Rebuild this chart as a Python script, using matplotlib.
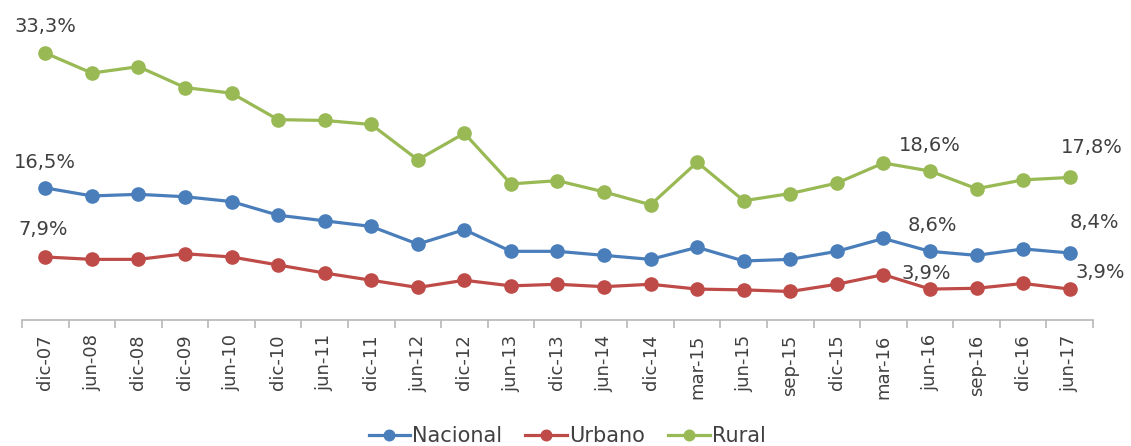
import matplotlib
matplotlib.use("Agg")
import matplotlib.pyplot as plt
import numpy as np

# periodos (eje x)
periodos = ['dic-07', 'jun-08', 'dic-08', 'dic-09', 'jun-10', 'dic-10', 'jun-11',
            'dic-11', 'jun-12', 'dic-12', 'jun-13', 'dic-13', 'jun-14', 'dic-14',
            'mar-15', 'jun-15', 'sep-15', 'dic-15', 'mar-16', 'jun-16', 'sep-16',
            'dic-16', 'jun-17']

# valores (%)
nacional = [16.5, 15.5, 15.7, 15.4, 14.8, 13.1, 12.4, 11.7, 9.5, 11.3, 8.6, 8.6,
            8.1, 7.6, 9.1, 7.4, 7.6, 8.6, 10.2, 8.6, 8.1, 8.9, 8.4]
urbano = [7.9, 7.6, 7.6, 8.3, 7.9, 6.9, 5.9, 5.0, 4.1, 5.0, 4.3, 4.5,
          4.2, 4.5, 3.9, 3.8, 3.6, 4.5, 5.7, 3.9, 4.0, 4.6, 3.9]
rural = [33.3, 30.8, 31.6, 29.0, 28.3, 25.0, 24.9, 24.4, 20.0, 23.3, 17.0, 17.4,
         16.0, 14.4, 19.7, 14.9, 15.8, 17.1, 19.6, 18.6, 16.4, 17.5, 17.8]

# etiquetas: indices de los puntos con valor
idx_etiquetas = [0, 19, 22]

colores = {'Nacional': '#4a7ebb', 'Urbano': '#be4b48', 'Rural': '#98b954'}
texto = '#404040'

fig = plt.figure(figsize=(11.31, 4.46), dpi=100)
W, H = 1131, 446
ax = fig.add_axes([22 / W, 1 - 320.4 / H, 1071 / W, 320.4 / H])

x = np.arange(len(periodos))
series = [('Nacional', nacional), ('Urbano', urbano), ('Rural', rural)]
for nombre, vals in series:
    ax.plot(x, vals, color=colores[nombre], lw=2.3, marker='o', ms=9.5,
            markeredgecolor=colores[nombre], label=nombre)

# desplazamientos de las etiquetas en pixeles (x, y)
desp = {
    'Nacional': [(0, 25), (2, 26), (25, 30)],
    'Urbano': [(-2, 27), (-4, 16), (31, 17)],
    'Rural': [(0, 26), (0, 26), (22, 30)],
}
for nombre, vals in series:
    for k, i in enumerate(idx_etiquetas):
        txt = f"{vals[i]:.1f}%".replace('.', ',')
        ax.annotate(txt, (x[i], vals[i]), xytext=desp[nombre][k],
                    textcoords='offset pixels', ha='center', va='center',
                    fontsize=14, color=texto, annotation_clip=False)

ax.set_xlim(-0.5, len(periodos) - 0.5)
ax.set_ylim(0, 39.9)
ax.set_yticks([])
for s in ['top', 'right', 'left']:
    ax.spines[s].set_visible(False)
ax.spines['bottom'].set_color('#b8b8b8')
ax.spines['bottom'].set_linewidth(1.2)

ax.set_xticks(x)
ax.set_xticklabels(periodos, rotation=90, fontsize=13, color=texto)
ax.set_xticks(np.arange(-0.5, len(periodos)), minor=True)
ax.tick_params(axis='x', which='major', length=0, pad=10)
ax.tick_params(axis='x', which='minor', length=6, color='#b8b8b8', width=1.2)

fig.legend(loc='center', bbox_to_anchor=(567 / W, 1 - 436 / H), ncol=3,
           frameon=False, fontsize=15, handlelength=2.0, handletextpad=0.1,
           columnspacing=1.1, labelcolor=texto, markerscale=0.8)

fig.savefig('out.png', dpi=100)
